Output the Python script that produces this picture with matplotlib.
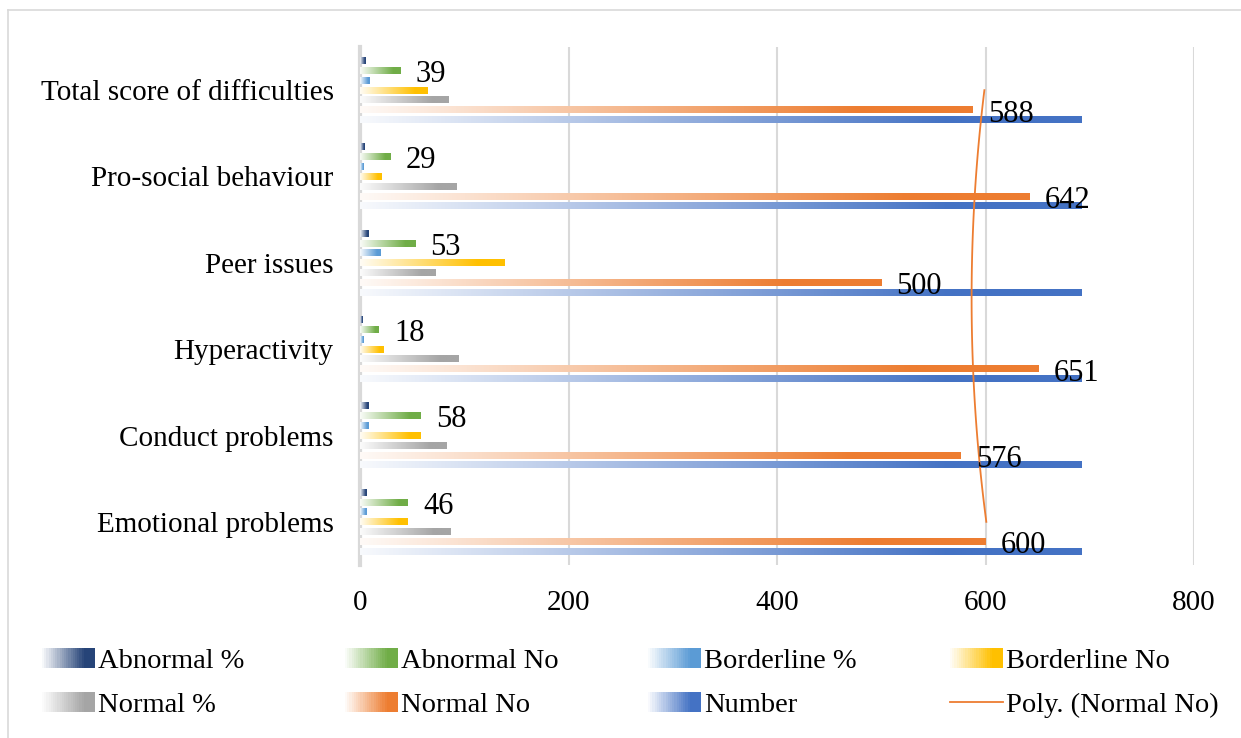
import numpy as np
import matplotlib.pyplot as plt
from matplotlib.colors import to_rgb
from matplotlib.patches import Rectangle
from matplotlib.lines import Line2D
from matplotlib.legend_handler import HandlerBase

plt.rcParams['font.family'] = ['Liberation Serif', 'DejaVu Serif']

# categories, bottom to top
categories = ['Emotional problems', 'Conduct problems', 'Hyperactivity',
              'Peer issues', 'Pro-social behaviour', 'Total score of difficulties']

abnormal_pct = [6.6, 8.4, 2.6, 7.7, 4.2, 5.6]
abnormal_no = [46, 58, 18, 53, 29, 39]
borderline_pct = [6.6, 8.4, 3.3, 20.1, 3.0, 9.4]
borderline_no = [46, 58, 23, 139, 21, 65]
normal_pct = [86.7, 83.2, 94.1, 72.3, 92.8, 85.0]
normal_no = [600, 576, 651, 500, 642, 588]
number = [692, 692, 692, 692, 692, 692]

series_names = ['Abnormal %', 'Abnormal No', 'Borderline %', 'Borderline No',
                'Normal %', 'Normal No', 'Number']
series_vals = [abnormal_pct, abnormal_no, borderline_pct, borderline_no,
               normal_pct, normal_no, number]
series_cols = ['#264478', '#70AD47', '#5B9BD5', '#FFC000',
               '#A5A5A5', '#ED7D31', '#4472C4']
labelled = ['Abnormal No', 'Normal No']

FS = 21


def grad_img(color, n=256):
    c = np.array(to_rgb(color))
    t = np.linspace(0, 1, n)
    a = np.clip(0.04 + t / 0.85, 0, 1)[:, None]
    rgb = (1 - a) * np.ones(3) + a * c
    return rgb[None, :, :]


class GradHandler(HandlerBase):
    def __init__(self, color):
        super().__init__()
        self.color = color

    def create_artists(self, legend, orig_handle, xdescent, ydescent,
                       width, height, fontsize, trans):
        img = grad_img(self.color, 24)[0]
        arts = []
        n = len(img)
        for k in range(n):
            r = Rectangle((-xdescent + width * k / n, -ydescent),
                          width / n + 0.3, height, facecolor=img[k],
                          edgecolor='none', transform=trans)
            arts.append(r)
        return arts


fig = plt.figure(figsize=(12.41, 7.38), dpi=100)
ax = fig.add_axes([360 / 1241, 1 - 565 / 738, (1194 - 360) / 1241, (565 - 47) / 738])

y = np.arange(len(categories))
slot = 0.114
bh = 0.078
for i, (name, vals, col) in enumerate(zip(series_names, series_vals, series_cols)):
    off = (3 - i) * slot
    for j, v in enumerate(vals):
        yc = y[j] + off
        ax.imshow(grad_img(col), extent=[0, v, yc - bh / 2, yc + bh / 2],
                  aspect='auto', interpolation='bilinear', zorder=3)
        if name in labelled:
            ax.annotate(str(v), (v, yc), xytext=(11, -3), textcoords='offset points',
                        ha='left', va='center', fontsize=22, zorder=5)

# polynomial trendline (order 2) on Normal No
coef = np.polyfit(y, normal_no, 2)
yy = np.linspace(y[0], y[-1], 100)
ax.plot(np.polyval(coef, yy), yy, color='#ED7D31', lw=1.3, zorder=4)

ax.set_xlim(0, 800)
ax.set_ylim(-0.5, 5.5)
ax.set_xticks([0, 200, 400, 600, 800])
ax.set_yticks(y)
ax.set_yticklabels(categories)
ax.tick_params(axis='both', length=0, labelsize=FS)
ax.tick_params(axis='y', pad=19)
ax.tick_params(axis='x', pad=18)
ax.grid(axis='x', color='#D9D9D9', lw=1.5, zorder=0)
ax.set_axisbelow(True)
for s in ['top', 'right', 'bottom']:
    ax.spines[s].set_visible(False)
ax.spines['left'].set_color('#D9D9D9')
ax.spines['left'].set_linewidth(3)
ax.spines['left'].set_zorder(2)

# legend: 4 columns, 2 rows, row-major like Excel
entries = []
for name, col in zip(series_names, series_cols):
    entries.append((Rectangle((0, 0), 1, 1, label=name), GradHandler(col)))
entries.append((Line2D([], [], color='#ED7D31', lw=1.3, label='Poly. (Normal No)'), None))
col_x = [42, 345, 648, 950]
for c in range(4):
    hs = [entries[c][0], entries[c + 4][0]]
    hmap = {h: hd for h, hd in (entries[c], entries[c + 4]) if hd is not None}
    fig.legend(handles=hs, handler_map=hmap, loc='upper left',
               bbox_to_anchor=(col_x[c] / 1241, 1 - 648 / 738), frameon=False,
               fontsize=20.5, handlelength=1.85, handletextpad=0.12,
               labelspacing=0.62, borderpad=0, borderaxespad=0)

# chart area border
fig.add_artist(Line2D([8 / 1241, 8 / 1241], [0, 1 - 10 / 738], color='#D9D9D9',
                      lw=1.2, transform=fig.transFigure))
fig.add_artist(Line2D([8 / 1241, 1], [1 - 10 / 738, 1 - 10 / 738], color='#D9D9D9',
                      lw=1.2, transform=fig.transFigure))

fig.savefig('out.png', dpi=100)
